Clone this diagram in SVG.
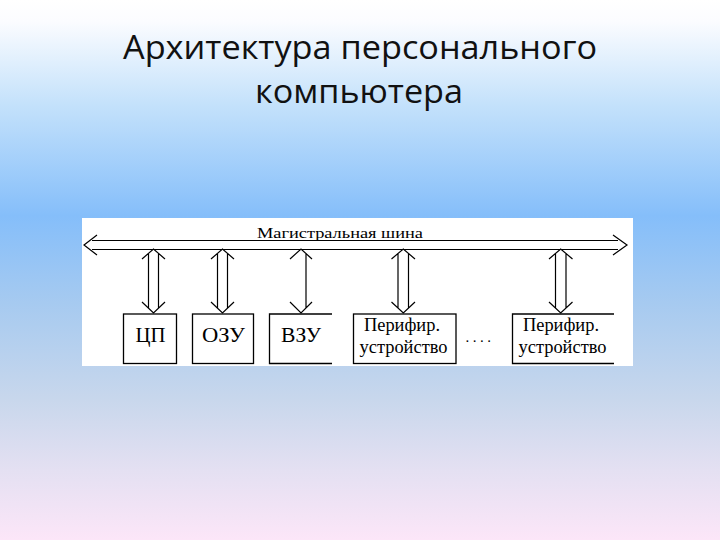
<svg xmlns="http://www.w3.org/2000/svg" width="720" height="540" viewBox="0 0 720 540">
<defs>
<linearGradient id="bg" x1="0" y1="0" x2="0" y2="1">
<stop offset="0" stop-color="#ffffff"/>
<stop offset="0.04" stop-color="#fbfcff"/>
<stop offset="0.19" stop-color="#c5e2fb"/>
<stop offset="0.40" stop-color="#85befa"/>
<stop offset="0.56" stop-color="#a6caf0"/>
<stop offset="0.74" stop-color="#c8d7ec"/>
<stop offset="0.87" stop-color="#e4e0f2"/>
<stop offset="1" stop-color="#fce6f8"/>
</linearGradient>
<style>
.t{font-family:"Open Sans","Noto Sans","DejaVu Sans",sans-serif;font-size:33px;fill:#111;text-anchor:middle}
.s{font-family:"Liberation Serif","DejaVu Serif",serif;fill:#000;text-anchor:middle}
.ln{stroke:#000;stroke-width:1.2;fill:none}
.box{stroke:#000;stroke-width:1.3;fill:#fff}
</style>
</defs>
<rect x="0" y="0" width="720" height="540" fill="url(#bg)"/>
<text class="t" x="360" y="59" textLength="474" lengthAdjust="spacingAndGlyphs">Архитектура персонального</text>
<text class="t" x="359" y="103" textLength="208" lengthAdjust="spacingAndGlyphs">компьютера</text>
<rect x="82" y="218" width="551" height="148" fill="#fff"/>
<text class="s" x="340" y="238" font-size="15" textLength="166" lengthAdjust="spacingAndGlyphs">Магистральная шина</text>
<g id="connectors">
<g id="bus">
<path class="ln" d="M92 240.5H618 M92 249.5H618"/>
<path class="ln" d="M97 235L84 245L97 255 M613 235L627 245L613 255"/>
</g>
<g id="a1"><path class="ln" d="M148.5 253V308 M158.5 253V308 M142 259L153.5 249L165 259 M142 302L153.5 313L165 302"/></g>
<g id="a2"><path class="ln" d="M217.5 253V308 M227.5 253V308 M211 259L222.5 249L234 259 M211 302L222.5 313L234 302"/></g>
<g id="a3"><path class="ln" d="M306 253V308 M290 259L301 249L312 259 M290 302L301 313L312 302"/></g>
<g id="a4"><path class="ln" d="M398 253V308 M408.5 253V308 M391.5 259L403.3 249L415 259 M391.5 302L403.3 313L415 302"/></g>
<g id="a5"><path class="ln" d="M555.5 253V308 M566 253V308 M549 259L560.7 249L572.5 259 M549 302L560.7 313L572.5 302"/></g>
</g>
<g id="n-cpu"><rect class="box" x="123.5" y="314" width="53" height="49.5"/><text class="s" x="150.5" y="342" font-size="21" textLength="30" lengthAdjust="spacingAndGlyphs">ЦП</text></g>
<g id="n-ram"><rect class="box" x="192.5" y="314" width="61" height="49.5"/><text class="s" x="223.5" y="342" font-size="21" textLength="43" lengthAdjust="spacingAndGlyphs">ОЗУ</text></g>
<g id="n-ext"><path class="box" d="M332 314H269.5V363.5H332"/><text class="s" x="301" y="342" font-size="21" textLength="40" lengthAdjust="spacingAndGlyphs">ВЗУ</text></g>
<g id="n-per1"><rect class="box" x="353.5" y="314" width="102.5" height="49.5"/><text class="s" x="402" y="331" font-size="18" textLength="76" lengthAdjust="spacingAndGlyphs">Перифир.</text><text class="s" x="403.5" y="353" font-size="18" textLength="88" lengthAdjust="spacingAndGlyphs">устройство</text></g>
<text class="s" x="480" y="342" font-size="15" letter-spacing="3.5">....</text>
<g id="n-per2"><path class="box" d="M614 314H512.5V363.5H614"/><text class="s" x="561" y="331" font-size="18" textLength="76" lengthAdjust="spacingAndGlyphs">Перифир.</text><text class="s" x="562.5" y="353" font-size="18" textLength="88" lengthAdjust="spacingAndGlyphs">устройство</text></g>
</svg>
